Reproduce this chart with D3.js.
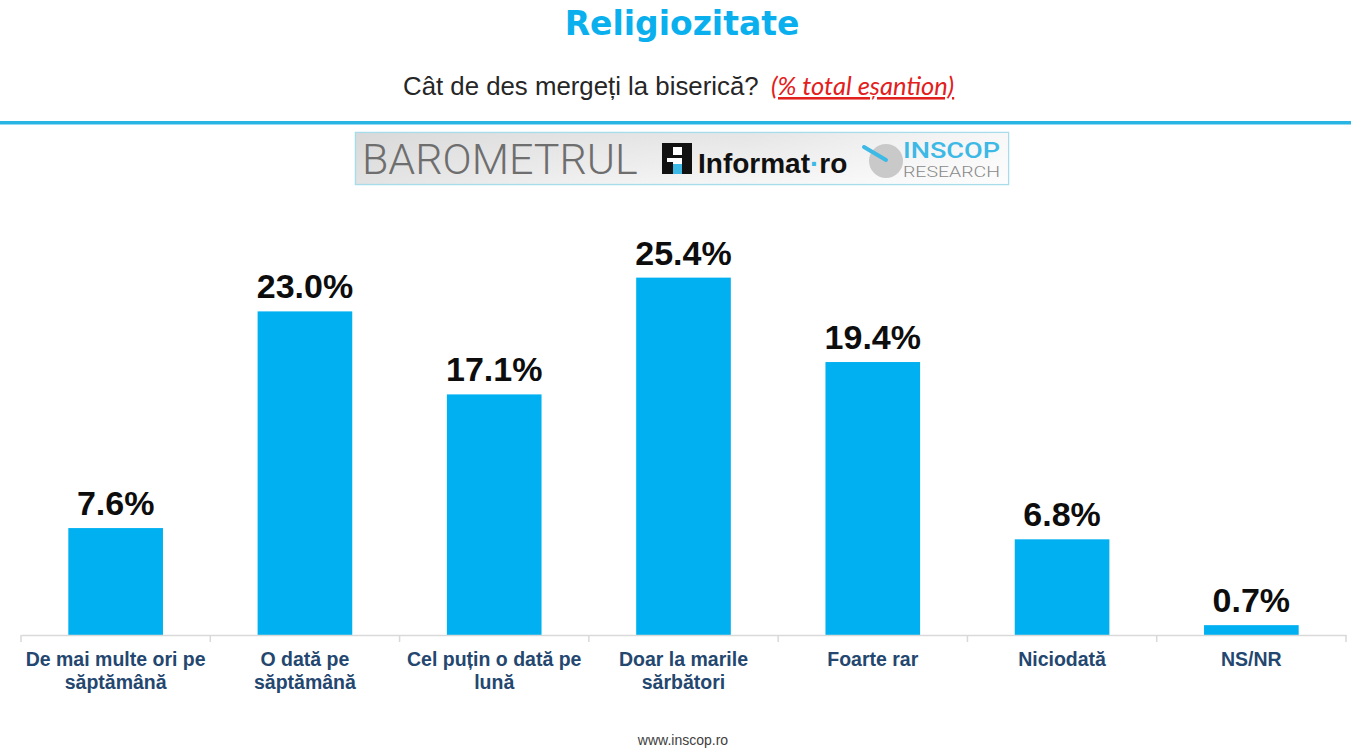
<!DOCTYPE html>
<html>
<head>
<meta charset="utf-8">
<script src="https://cdn.jsdelivr.net/npm/d3@7/dist/d3.min.js"></script>
<style>
  html, body { margin: 0; padding: 0; background: #ffffff; }
  svg { display: block; }
</style>
</head>
<body>
<svg id="chart" width="1351" height="750"></svg>
<script>
// ---- data ----
const categories = [
  "De mai multe ori pe\nsăptămână",
  "O dată pe\nsăptămână",
  "Cel puțin o dată pe\nlună",
  "Doar la marile\nsărbători",
  "Foarte rar",
  "Niciodată",
  "NS/NR"
];
const values = [7.6, 23.0, 17.1, 25.4, 19.4, 6.8, 0.7];
const valueLabels = ["7.6%", "23.0%", "17.1%", "25.4%", "19.4%", "6.8%", "0.7%"];

const titleText = "Religiozitate";
const questionText = "Cât de des mergeți la biserică?";
const noteText = "(% total eșantion)";
const footerText = "www.inscop.ro";

// ---- layout ----
const svg = d3.select("#chart");
const W = 1351, H = 750;
const baseY = 635;

const x = d3.scaleBand()
  .domain(categories)
  .range([21, 1346])
  .paddingInner(0.5)
  .paddingOuter(0.25);

const y = d3.scaleLinear()
  .domain([0, 30])
  .range([baseY, baseY - 30 * 14.07]);

// Title
svg.append("text")
  .attr("x", 682).attr("y", 35)
  .attr("text-anchor", "middle")
  .style("font-family", "'DejaVu Sans', Verdana, sans-serif")
  .style("font-weight", "bold")
  .style("font-size", "33px")
  .style("fill", "#0AB0EE")
  .text(titleText);

// Subtitle
svg.append("text")
  .attr("x", 403).attr("y", 95)
  .style("font-family", "'Liberation Sans', Arial, sans-serif")
  .style("font-size", "25.8px")
  .style("fill", "#262626")
  .text(questionText);

svg.append("text")
  .attr("x", 771).attr("y", 95)
  .style("font-family", "Lato, 'Open Sans', sans-serif")
  .style("font-style", "italic")
  .style("font-size", "25.5px")
  .style("fill", "#E2201C")
  .style("text-decoration", "underline")
  .text(noteText);

// Cyan separator line
svg.append("rect")
  .attr("x", 0).attr("y", 121)
  .attr("width", W).attr("height", 3.5)
  .attr("fill", "#29B5E3");

// Logo banner
const defs = svg.append("defs");
const grad = defs.append("linearGradient")
  .attr("id", "bannerGrad").attr("x1", 0).attr("x2", 0).attr("y1", 0).attr("y2", 1);
grad.append("stop").attr("offset", "0%").attr("stop-color", "#DADADA");
grad.append("stop").attr("offset", "100%").attr("stop-color", "#F2F2F2");
const gradH = defs.append("linearGradient")
  .attr("id", "bannerGradH").attr("x1", 0).attr("x2", 1).attr("y1", 0).attr("y2", 0);
gradH.append("stop").attr("offset", "0%").attr("stop-color", "#D8D8D8").attr("stop-opacity", 0.6);
gradH.append("stop").attr("offset", "60%").attr("stop-color", "#FFFFFF").attr("stop-opacity", 0.3);
gradH.append("stop").attr("offset", "100%").attr("stop-color", "#FFFFFF").attr("stop-opacity", 0.8);

const banner = svg.append("g");
banner.append("rect")
  .attr("x", 355.5).attr("y", 132.5).attr("width", 653).attr("height", 52)
  .attr("fill", "url(#bannerGrad)")
  .attr("stroke", "#A8DCEA").attr("stroke-width", 1.5);
banner.append("rect")
  .attr("x", 356).attr("y", 133).attr("width", 652).attr("height", 51)
  .attr("fill", "url(#bannerGradH)");

banner.append("text")
  .attr("x", 362).attr("y", 174)
  .style("font-family", "Roboto, 'Open Sans', sans-serif")
  .style("font-weight", "300")
  .style("font-size", "43px")
  .style("fill", "#6E6E6E")
  .text("BAROMETRUL");

// Informat.ro icon
banner.append("rect").attr("x", 662).attr("y", 143).attr("width", 30).attr("height", 31).attr("fill", "#111");
banner.append("rect").attr("x", 673).attr("y", 147).attr("width", 9).attr("height", 8).attr("fill", "#fff");
banner.append("rect").attr("x", 673).attr("y", 158).attr("width", 9).attr("height", 6).attr("fill", "#fff");
banner.append("rect").attr("x", 667).attr("y", 158).attr("width", 6).attr("height", 4).attr("fill", "#fff");
banner.append("rect").attr("x", 673).attr("y", 164).attr("width", 9).attr("height", 10).attr("fill", "#3DB9E6");

const inf = banner.append("text")
  .attr("x", 698).attr("y", 173)
  .style("font-family", "'Liberation Sans', Arial, sans-serif")
  .style("font-weight", "bold")
  .style("font-size", "28px")
  .style("fill", "#111");
inf.append("tspan").text("Informat");
inf.append("tspan").style("fill", "#3DB9E6").text("·");
inf.append("tspan").text("ro");

// INSCOP logo
banner.append("circle").attr("cx", 886).attr("cy", 161).attr("r", 17).attr("fill", "#C9C9C9");
banner.append("line")
  .attr("x1", 864).attr("y1", 147).attr("x2", 886).attr("y2", 160)
  .attr("stroke", "#3DB9E6").attr("stroke-width", 4).attr("stroke-linecap", "round");
banner.append("text")
  .attr("x", 903).attr("y", 158)
  .style("font-family", "Roboto, 'Liberation Sans', sans-serif")
  .style("font-weight", "500")
  .style("font-size", "22px")
  .style("fill", "#3DB9E6")
  .attr("textLength", 97).attr("lengthAdjust", "spacingAndGlyphs")
  .text("INSCOP");
banner.append("text")
  .attr("x", 903).attr("y", 177)
  .style("font-family", "Roboto, 'Liberation Sans', sans-serif")
  .style("font-weight", "300")
  .style("font-size", "14px")
  .style("fill", "#8A8A8A")
  .attr("textLength", 97).attr("lengthAdjust", "spacingAndGlyphs")
  .text("RESEARCH");

// Bars
svg.append("g").selectAll("rect")
  .data(categories)
  .join("rect")
  .attr("x", d => x(d))
  .attr("width", x.bandwidth())
  .attr("y", (d, i) => y(values[i]))
  .attr("height", (d, i) => y(0) - y(values[i]))
  .attr("fill", "#00B0F0");

// Value labels
svg.append("g").selectAll("text")
  .data(categories)
  .join("text")
  .attr("x", d => x(d) + x.bandwidth() / 2)
  .attr("y", (d, i) => y(values[i]) - 13)
  .attr("text-anchor", "middle")
  .style("font-family", "'Liberation Sans', Arial, sans-serif")
  .style("font-weight", "bold")
  .style("font-size", "34px")
  .style("fill", "#0D0D0D")
  .text((d, i) => valueLabels[i]);

// X axis
const axis = svg.append("g")
  .attr("transform", `translate(0,${baseY})`)
  .call(d3.axisBottom(x).tickSize(0).tickFormat(""));
axis.select(".domain").attr("stroke", "#D9D9D9").attr("stroke-width", 1.5);
axis.selectAll(".tick").remove();

// boundary ticks between categories
const bounds = categories.map(d => x(d) - x.step() * x.paddingInner() / 2);
bounds.push(x(categories[categories.length - 1]) + x.bandwidth() + x.step() * x.paddingInner() / 2);
axis.selectAll("line.bound")
  .data(bounds)
  .join("line")
  .attr("class", "bound")
  .attr("x1", d => d).attr("x2", d => d)
  .attr("y1", 0).attr("y2", 7)
  .attr("stroke", "#D9D9D9").attr("stroke-width", 1.5);

// Category labels
const catG = svg.append("g").selectAll("text")
  .data(categories)
  .join("text")
  .attr("text-anchor", "middle")
  .style("font-family", "'Liberation Sans', Arial, sans-serif")
  .style("font-weight", "bold")
  .style("font-size", "19.5px")
  .style("fill", "#24476F");
catG.each(function(d) {
  const t = d3.select(this);
  const cx = x(d) + x.bandwidth() / 2;
  d.split("\n").forEach((line, j) => {
    t.append("tspan").attr("x", cx).attr("y", 666 + j * 23).text(line);
  });
});

// Footer
svg.append("text")
  .attr("x", 683).attr("y", 745)
  .attr("text-anchor", "middle")
  .style("font-family", "'Liberation Sans', Arial, sans-serif")
  .style("font-size", "14px")
  .style("fill", "#404040")
  .text(footerText);
</script>
</body>
</html>
